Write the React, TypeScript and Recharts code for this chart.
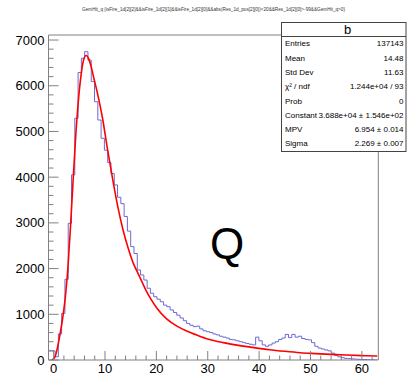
import { ComposedChart, Line, XAxis, YAxis, ReferenceArea } from "recharts";

// histogram binning (ROOT TH1: 100 bins from -1 to 63)
const histLow = -1;
const binWidth = 0.64;

// bin contents
const counts = [
  200, 200, 70, 570, 1020, 1765, 2990, 4050, 5290, 6290,
  6600, 6745, 6560, 6090, 5650, 5250, 4850, 4590, 4320, 4080,
  3830, 3560, 3420, 3140, 2820, 2480, 2330, 1970, 1860, 1750,
  1570, 1460, 1385, 1330, 1275, 1200, 1165, 1095, 1040, 980,
  920, 860, 800, 760, 730, 740, 680, 640, 620, 600,
  570, 550, 520, 500, 480, 450, 440, 420, 400, 380,
  360, 345, 330, 500, 420, 330, 300, 330, 370, 400,
  450, 480, 560, 490, 560, 500, 520, 470, 450, 440,
  380, 300, 260, 240, 220, 200, 150, 100, 70, 50,
  35, 30, 25, 20, 15, 10, 10, 5, 5, 0,
];

// landau fit curve
const fitX = [
  -0.3, 0.3, 0.8, 1.3, 1.8, 2.3, 2.8, 3.3, 3.8, 4.3, 4.8, 5.3, 5.8, 6.3, 6.8,
  7.3, 7.8, 8.5, 9.5, 10.5, 11.5, 12.5, 13.5, 14.5, 15.5, 16.5, 18, 19, 20,
  22, 24, 26, 28, 30, 33, 36, 39, 42, 45, 48, 51, 54, 57, 60, 63,
];
const fitY = [
  0, 80, 300, 600, 950, 1400, 2050, 2950, 3950, 4900, 5650, 6200, 6550, 6660, 6600,
  6420, 6180, 5850, 5300, 4600, 3950, 3350, 2850, 2450, 2120, 1880, 1520, 1320, 1150,
  900, 740, 630, 540, 460, 380, 320, 270, 225, 190, 160, 140, 122, 108, 96, 86,
];

const xTicks = Array.from({ length: 32 }, (_, i) => i * 2);
const yTicks = Array.from({ length: 36 }, (_, i) => i * 200);

const statsRows: [string, string][] = [
  ["Entries", "137143"],
  ["Mean", "14.48"],
  ["Std Dev", "11.63"],
  ["χ² / ndf", "1.244e+04 / 93"],
  ["Prob", "0"],
  ["Constant", "3.688e+04 ± 1.546e+02"],
  ["MPV", "6.954 ± 0.014"],
  ["Sigma", "2.269 ± 0.007"],
];

const title =
  "GemHit_q {isFire_1d[2][2]&&isFire_1d[2][1]&&isFire_1d[2][0]&&abs(Res_1d_pos[2][0])<20&&Res_1d[2][0]>-99&&GemHit_q>0}";

const font = '"Liberation Sans", Arial, Helvetica, sans-serif';
const axisGray = "#808080";

const histData = [
  ...counts.map((c, i) => ({ x: histLow + i * binWidth, y: c })),
  { x: histLow + counts.length * binWidth, y: counts[counts.length - 1] },
];
const fitData = fitX.map((x, i) => ({ x, y: fitY[i] }));

const XTick = (props: any) => {
  const { x, y, payload } = props;
  const v = payload.value;
  const major = v % 10 === 0;
  return (
    <g>
      <line x1={x} y1={y} x2={x} y2={y - (major ? 9 : 4.5)} stroke={axisGray} />
      {major && (
        <text x={x} y={y + 13} textAnchor="middle" fontSize={13} fontFamily={font} fill="#000">
          {v}
        </text>
      )}
    </g>
  );
};

const YTick = (props: any) => {
  const { x, y, payload } = props;
  const v = payload.value;
  const major = v % 1000 === 0;
  return (
    <g>
      <line x1={x} y1={y} x2={x + (major ? 10 : 5)} y2={y} stroke={axisGray} />
      {major && (
        <text x={x - 4} y={y + 4.5} textAnchor="end" fontSize={13} fontFamily={font} fill="#000">
          {v}
        </text>
      )}
    </g>
  );
};

export default function App() {
  return (
    <div style={{ position: "fixed", left: 0, top: 0, width: 408, height: 379, background: "#fff" }}>
      <ComposedChart width={408} height={379} margin={{ top: 35, right: 29.7, bottom: 0, left: 0 }}>
        <XAxis
          type="number"
          dataKey="x"
          domain={[-1, 63.2]}
          allowDataOverflow
          ticks={xTicks}
          interval={0}
          tick={<XTick />}
          tickLine={false}
          axisLine={false}
          tickSize={0}
          tickMargin={0}
          height={19}
        />
        <YAxis
          type="number"
          domain={[0, 7110]}
          allowDataOverflow
          ticks={yTicks}
          interval={0}
          tick={<YTick />}
          tickLine={false}
          axisLine={false}
          tickSize={0}
          tickMargin={0}
          width={48.5}
        />
        <ReferenceArea x1={-1} x2={63.2} y1={0} y2={7110} fill="none" stroke={axisGray} strokeWidth={1} ifOverflow="visible" />
        <Line
          data={histData}
          dataKey="y"
          type="stepAfter"
          stroke="#6a6ad4"
          strokeWidth={1}
          dot={false}
          isAnimationActive={false}
        />
        <Line
          data={fitData}
          dataKey="y"
          type="monotone"
          stroke="#ff0000"
          strokeWidth={1.6}
          dot={false}
          isAnimationActive={false}
        />
      </ComposedChart>
      <svg width={408} height={379} style={{ position: "absolute", left: 0, top: 0, pointerEvents: "none" }}>
        <text x={82} y={11} fontSize={4.5} fontFamily={font} fill="#333" textLength={263} lengthAdjust="spacingAndGlyphs">
          {title}
        </text>
        <text x={210} y={258.5} fontSize={44} fontFamily={font} fill="#000">
          Q
        </text>
        <rect x={281.5} y={22.5} width={124.5} height={129} fill="#fff" stroke="#444" strokeWidth={1} />
        <line x1={281.5} y1={36.5} x2={406} y2={36.5} stroke="#444" strokeWidth={1} />
        <text x={347.5} y={33.5} textAnchor="middle" fontSize={13} fontFamily={font} fill="#000">
          b
        </text>
        {statsRows.map(([k, v], i) => (
          <g key={k}>
            <text x={285} y={46.3 + i * 14.3} fontSize={8} fontFamily={font} fill="#000">
              {k}
            </text>
            <text x={403.5} y={46.3 + i * 14.3} textAnchor="end" fontSize={8} fontFamily={font} fill="#000">
              {v}
            </text>
          </g>
        ))}
      </svg>
    </div>
  );
}
